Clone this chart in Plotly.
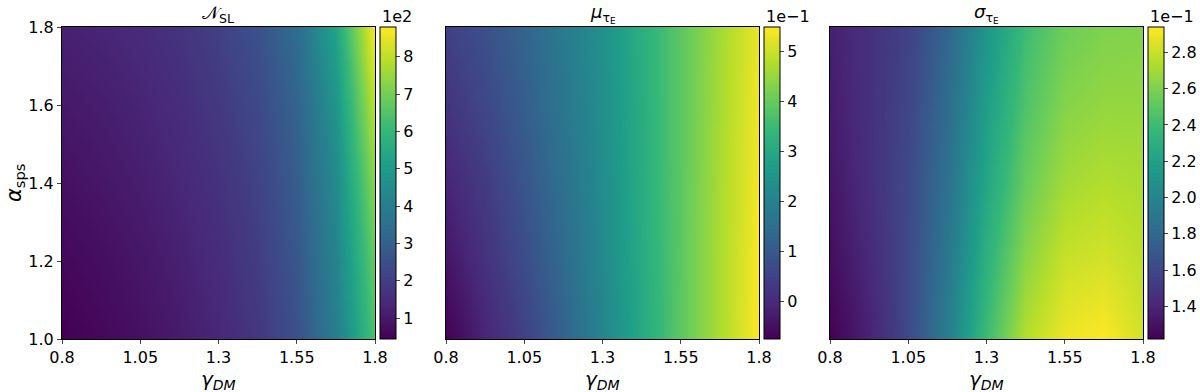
import plotly.graph_objects as go

# grid (gamma_DM along x, alpha_sps along y)
gamma_dm = [0.8, 0.925, 1.05, 1.175, 1.3, 1.425, 1.55, 1.675, 1.8]
alpha_sps = [1.0, 1.2, 1.4, 1.6, 1.8]

# N_SL (rows = alpha_sps, bottom to top)
n_sl = [
    [44, 60, 80, 105, 135, 180, 250, 400, 640],
    [60, 75, 95, 118, 150, 195, 270, 420, 680],
    [80, 95, 112, 135, 165, 210, 290, 445, 730],
    [100, 112, 128, 150, 185, 230, 310, 480, 800],
    [120, 130, 145, 170, 205, 255, 340, 530, 880],
]

# mu_tauE
mu_tau = [
    [-0.074, -0.01, 0.045, 0.12, 0.21, 0.30, 0.39, 0.47, 0.548],
    [-0.04, 0.015, 0.07, 0.14, 0.22, 0.305, 0.39, 0.47, 0.545],
    [-0.01, 0.035, 0.09, 0.155, 0.228, 0.31, 0.39, 0.468, 0.54],
    [0.02, 0.06, 0.11, 0.17, 0.235, 0.312, 0.39, 0.465, 0.535],
    [0.045, 0.08, 0.125, 0.18, 0.24, 0.315, 0.39, 0.462, 0.53],
]

# sigma_tauE
sigma_tau = [
    [0.122, 0.138, 0.160, 0.195, 0.240, 0.275, 0.290, 0.294, 0.282],
    [0.128, 0.142, 0.160, 0.190, 0.232, 0.264, 0.280, 0.283, 0.277],
    [0.132, 0.145, 0.160, 0.186, 0.224, 0.254, 0.270, 0.274, 0.272],
    [0.135, 0.146, 0.158, 0.182, 0.218, 0.246, 0.262, 0.266, 0.266],
    [0.137, 0.146, 0.156, 0.178, 0.212, 0.240, 0.255, 0.260, 0.261],
]

titles = ["𝒩<sub>SL</sub>", "<i>μ</i><sub>τ<sub>E</sub></sub>", "<i>σ</i><sub>τ<sub>E</sub></sub>"]
cb_exp = ["1e2", "1e−1", "1e−1"]
cb_ticks = [
    ([100, 200, 300, 400, 500, 600, 700, 800], ["1", "2", "3", "4", "5", "6", "7", "8"]),
    ([0.0, 0.1, 0.2, 0.3, 0.4, 0.5], ["0", "1", "2", "3", "4", "5"]),
    ([0.14, 0.16, 0.18, 0.20, 0.22, 0.24, 0.26, 0.28],
     ["1.4", "1.6", "1.8", "2.0", "2.2", "2.4", "2.6", "2.8"]),
]
zdata = [n_sl, mu_tau, sigma_tau]

W, H = 1200, 392
left_px = [62, 446, 830]
plot_w = 313
top_px, bot_px = 27, 339
cb_gap, cb_w = 5, 16

font = "DejaVu Sans"
fig = go.Figure()
annotations = []
for i in range(3):
    x0 = left_px[i] / W
    x1 = (left_px[i] + plot_w) / W
    y0 = 1 - bot_px / H
    y1 = 1 - top_px / H
    sfx = "" if i == 0 else str(i + 1)
    tv, tt = cb_ticks[i]
    fig.add_trace(go.Heatmap(
        x=gamma_dm, y=alpha_sps, z=zdata[i],
        colorscale="Viridis", zsmooth="best",
        xaxis="x" + sfx, yaxis="y" + sfx,
        colorbar=dict(
            x=(left_px[i] + plot_w + cb_gap) / W, xanchor="left",
            y=y1, yanchor="top", len=y1 - y0, lenmode="fraction",
            thickness=cb_w, thicknessmode="pixels",
            outlinecolor="black", outlinewidth=1, xpad=0, ypad=0,
            tickvals=tv, ticktext=tt, ticks="outside", ticklen=4,
            tickfont=dict(family=font, size=16, color="black"),
        ),
    ))
    fig.update_layout(**{
        "xaxis" + sfx: dict(
            domain=[x0, x1], range=[0.8, 1.8], anchor="y" + sfx, automargin=False,
            tickvals=[0.8, 1.05, 1.3, 1.55, 1.8], ticktext=["0.8", "1.05", "1.3", "1.55", "1.8"],
            ticks="outside", ticklen=4, showline=True, mirror=True, linecolor="black",
            linewidth=1, showgrid=False, zeroline=False,
            tickfont=dict(family=font, size=16, color="black"),
        ),
        "yaxis" + sfx: dict(
            domain=[y0, y1], range=[1.0, 1.8], anchor="x" + sfx, automargin=False,
            tickvals=[1.0, 1.2, 1.4, 1.6, 1.8], ticktext=["1.0", "1.2", "1.4", "1.6", "1.8"],
            showticklabels=(i == 0),
            ticks="outside" if i == 0 else "", ticklen=4, showline=True, mirror=True,
            linecolor="black", linewidth=1, showgrid=False, zeroline=False,
            tickfont=dict(family=font, size=16, color="black"),
        ),
    })
    # panel title
    annotations.append(dict(
        text=titles[i], x=(x0 + x1) / 2, y=y1, xref="paper", yref="paper",
        xanchor="center", yanchor="bottom", yshift=-1, showarrow=False,
        font=dict(family=font, size=18, color="black"),
    ))
    # colorbar offset text
    annotations.append(dict(
        text=cb_exp[i], x=(left_px[i] + plot_w + cb_gap) / W, y=y1, xref="paper", yref="paper",
        xanchor="left", yanchor="bottom", yshift=-1, showarrow=False,
        font=dict(family=font, size=16, color="black"),
    ))
    # x-axis label
    annotations.append(dict(
        text="<i>γ<sub>DM</sub></i>", x=(x0 + x1) / 2, y=0, xref="paper", yref="paper",
        xanchor="center", yanchor="bottom", yshift=-3, showarrow=False,
        font=dict(family=font, size=20, color="black"),
    ))

annotations.append(dict(
    text="<i>α</i><sub>sps</sub>", x=0, y=(2 - (bot_px + top_px) / H) / 2, xref="paper", yref="paper",
    xanchor="left", yanchor="middle", xshift=0, textangle=-90, showarrow=False,
    font=dict(family=font, size=21, color="black"),
))

fig.update_layout(
    width=W, height=H, margin=dict(l=0, r=0, t=0, b=0),
    paper_bgcolor="white", plot_bgcolor="white",
    annotations=annotations, showlegend=False,
)
fig.write_html("out.html", config={"displayModeBar": False},
               post_script="document.body.style.margin='0';document.body.style.overflow='hidden';")
